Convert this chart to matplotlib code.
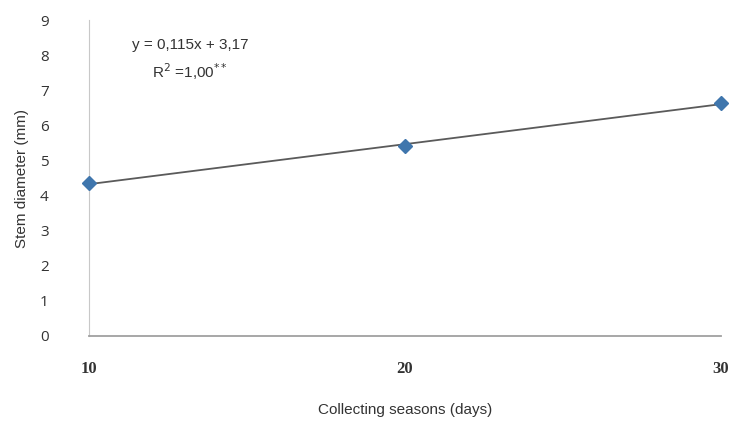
import numpy as np
import matplotlib
matplotlib.use("Agg")
import matplotlib.pyplot as plt

# Datos
days = [10, 20, 30]
stem_diameter = [4.35, 5.42, 6.63]
y_ticks = [0, 1, 2, 3, 4, 5, 6, 7, 8, 9]

fig = plt.figure(figsize=(7.32, 4.29), dpi=100)
ax = fig.add_axes([0.1216, 0.2168, 0.8634, 0.7362])

# Línea de tendencia
coef = np.polyfit(days, stem_diameter, 1)
xt = np.array([days[0], days[-1]])
ax.plot(xt, np.polyval(coef, xt), color="#5a5a5a", lw=1.3, zorder=2)
ax.plot(days, stem_diameter, linestyle="none", marker="D", markersize=7.5,
        color="#3f76ad", zorder=3, clip_on=False)

ax.set_xlim(10, 30)
ax.set_ylim(0, 9)
ax.set_xticks(days)
ax.set_yticks(y_ticks)
ax.tick_params(length=0)
ax.tick_params(axis="y", pad=29, labelsize=11, labelcolor="#333333")
ax.tick_params(axis="x", pad=18, labelsize=12, labelcolor="#333333")
for lab in ax.get_xticklabels():
    lab.set_fontfamily("Liberation Serif")
    lab.set_fontweight("bold")
for lab in ax.get_yticklabels():
    lab.set_fontfamily("Open Sans")

for s in ["top", "right"]:
    ax.spines[s].set_visible(False)
ax.spines["left"].set_color("#c8c8c8")
ax.spines["bottom"].set_color("#a0a0a0")
ax.spines["bottom"].set_linewidth(1.3)

ax.set_xlabel("Collecting seasons (days)", fontsize=11, family="Liberation Sans",
              color="#333333", labelpad=19)
ax.set_ylabel("Stem diameter (mm)", fontsize=11, family="Liberation Sans",
              color="#333333", labelpad=8)

ax.text(13.2, 8.29, "y = 0,115x + 3,17", ha="center", va="center",
        fontsize=11, family="Liberation Sans", color="#333333")
ax.text(13.2, 7.52, "R$^2$ =1,00$^{**}$", ha="center", va="center",
        fontsize=11, family="Liberation Sans", color="#333333")

fig.savefig("out.png", dpi=100)
